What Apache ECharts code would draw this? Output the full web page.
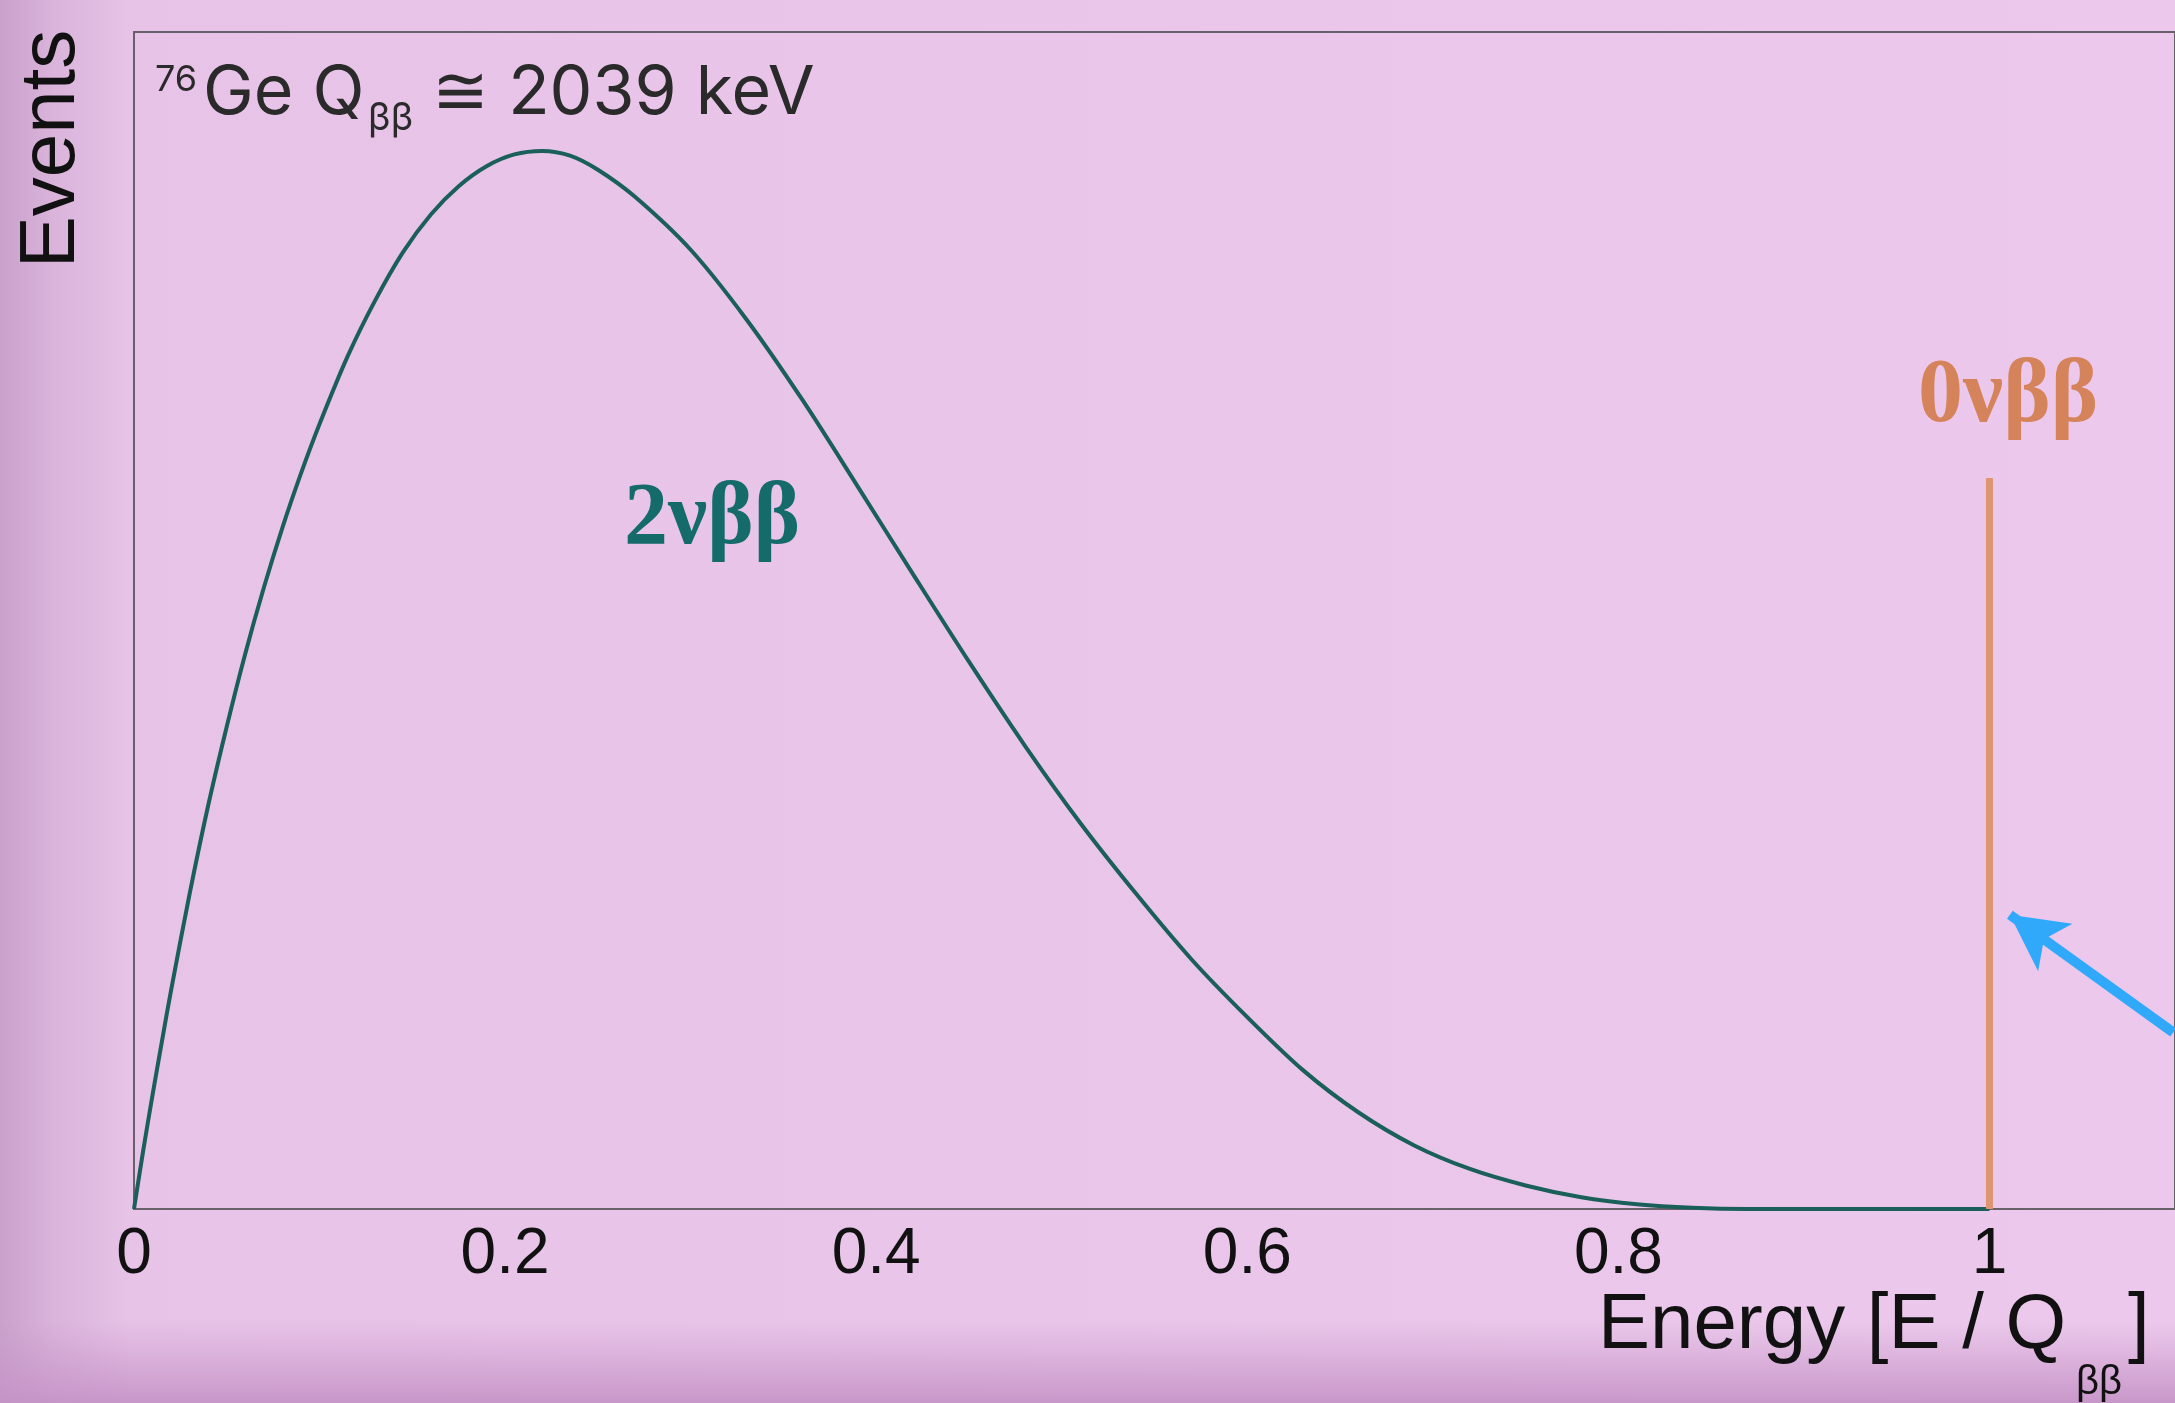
<!DOCTYPE html>
<html>
<head>
<meta charset="utf-8">
<script src="https://cdn.jsdelivr.net/npm/echarts@6/dist/echarts.min.js"></script>
<style>
html,body{margin:0;padding:0;width:2175px;height:1403px;overflow:hidden;}
#chart{width:2175px;height:1403px;}
</style>
</head>
<body>
<div id="chart"></div>
<script>
// Energy values (E / Q_bb) for the 2vbb spectrum
const energy2v = [0, 0.005, 0.010, 0.015, 0.020, 0.030, 0.040, 0.050, 0.060, 0.070, 0.080, 0.090, 0.100, 0.115, 0.130, 0.145, 0.160, 0.175, 0.190, 0.205, 0.220, 0.235, 0.250, 0.270, 0.300, 0.330, 0.360, 0.390, 0.420, 0.450, 0.480, 0.510, 0.540, 0.570, 0.600, 0.630, 0.660, 0.690, 0.720, 0.750, 0.780, 0.810, 0.840, 0.870, 1.0];
// Events (arbitrary units) for the 2vbb spectrum
const events2v = [0, 0.050, 0.097, 0.142, 0.186, 0.268, 0.343, 0.410, 0.472, 0.528, 0.579, 0.625, 0.667, 0.724, 0.772, 0.813, 0.845, 0.869, 0.886, 0.896, 0.899, 0.895, 0.883, 0.860, 0.815, 0.756, 0.688, 0.614, 0.539, 0.465, 0.394, 0.328, 0.268, 0.212, 0.163, 0.118, 0.082, 0.054, 0.034, 0.020, 0.010, 0.004, 0.001, 0, 0];
// 0vbb peak at Q_bb
const energy0v = [1.0, 1.0];
const events0v = [0, 0.621];
// Arrow annotation (data coords): tail, tip
const arrowTail = [1.099, 0.150];
const arrowTip = [1.011, 0.250];
// x tick labels
const xTicks = [0, 0.2, 0.4, 0.6, 0.8, 1];

const chart = echarts.init(document.getElementById('chart'));
const zip = (a, b) => a.map((v, i) => [v, b[i]]);

const option = {
  animation: false,
  backgroundColor: new echarts.graphic.LinearGradient(0, 0, 1, 0, [
    {offset: 0, color: '#c9a1cb'},
    {offset: 0.025, color: '#dab4db'},
    {offset: 0.06, color: '#e7c3e7'},
    {offset: 1, color: '#ecc9ec'}
  ]),
  grid: {
    left: 134, top: 32, width: 2045, height: 1177,
    show: true, borderColor: '#6a606a', borderWidth: 2, backgroundColor: 'transparent'
  },
  xAxis: {
    type: 'value', min: 0, max: 1.1, interval: 0.2,
    axisLine: {show: false}, axisTick: {show: false}, splitLine: {show: false},
    axisLabel: {
      margin: 14, color: '#111', fontFamily: 'Liberation Sans', fontSize: 64,
      showMaxLabel: false,
      formatter: v => xTicks.some(t => Math.abs(t - v) < 1e-9) ? String(+v.toFixed(1)) : ''
    }
  },
  yAxis: {
    type: 'value', min: 0, max: 1,
    axisLine: {show: false}, axisTick: {show: false}, splitLine: {show: false}, axisLabel: {show: false}
  },
  series: [
    {
      type: 'line', data: zip(energy2v, events2v), showSymbol: false,
      smooth: 0.3,
      lineStyle: {color: '#1b5f5b', width: 4}, z: 3
    },
    {
      type: 'line', data: zip(energy0v, events0v), showSymbol: false, clip: false,
      lineStyle: {color: '#dd966f', width: 7}, z: 4,
      markLine: {
        silent: true, symbol: ['none', 'arrow'], symbolSize: [44, 56],
        label: {show: false},
        lineStyle: {color: '#31a9fb', width: 10, type: 'solid', opacity: 1},
        data: [[{coord: arrowTail}, {coord: arrowTip}]]
      }
    }
  ],
  graphic: [
    {type: 'rect', z: 0, silent: true, shape: {x: 0, y: 1320, width: 2175, height: 83},
      style: {fill: new echarts.graphic.LinearGradient(0, 0, 0, 1, [
        {offset: 0, color: 'rgba(200,150,200,0)'}, {offset: 1, color: 'rgba(196,146,198,0.9)'}])}},
    // title pieces
    {type: 'text', z: 100, left: 155, top: 62, style: {text: '76', font: '36px Inter', fill: '#2a2a2a'}},
    {type: 'text', z: 100, left: 203, top: 60, style: {text: 'Ge Q', font: '68px Inter', fill: '#2a2a2a'}},
    {type: 'text', z: 100, left: 368, top: 100, style: {text: 'ββ', font: '38px Inter', fill: '#2a2a2a'}},
    {type: 'text', z: 100, left: 432, top: 60, style: {text: '≅ 2039 keV', font: '68px Inter', fill: '#2a2a2a'}},
    // Events
    {type: 'text', z: 100, x: 52, y: 149, rotation: Math.PI / 2,
      style: {text: 'Events', font: '78px Liberation Sans', fill: '#111', align: 'center', verticalAlign: 'middle'}},
    // Energy axis name
    {type: 'text', z: 100, x: 1598, y: 1326, style: {text: 'Energy [E / Q', font: '78px Liberation Sans', fill: '#111', verticalAlign: 'middle'}},
    {type: 'text', z: 100, x: 2076, y: 1383, style: {text: 'ββ', font: '40px Liberation Sans', fill: '#111', verticalAlign: 'middle'}},
    {type: 'text', z: 100, x: 2128, y: 1326, style: {text: ']', font: '78px Liberation Sans', fill: '#111', verticalAlign: 'middle'}},
    // labels
    {type: 'text', z: 100, x: 624, y: 520, style: {text: '2νββ', font: 'bold 88px Liberation Serif', fill: '#156b6a', verticalAlign: 'middle'}},
    {type: 'text', z: 100, x: 1918, y: 398, style: {text: '0νββ', font: 'bold 90px Liberation Serif', fill: '#d5835a', verticalAlign: 'middle'}}
  ]
};
chart.setOption(option);
</script>
</body>
</html>
